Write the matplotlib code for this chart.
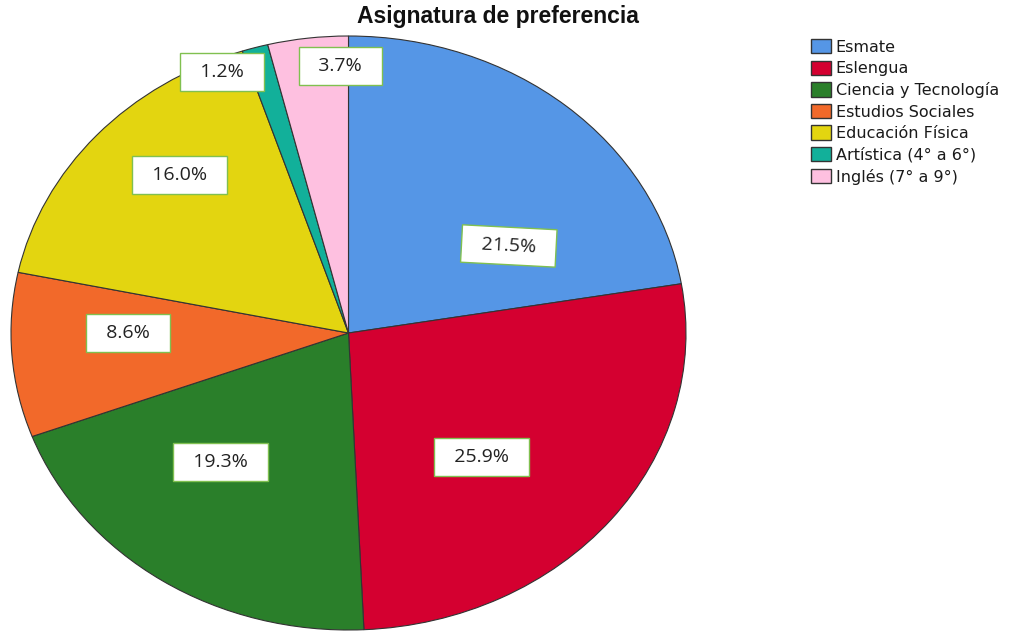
import matplotlib
matplotlib.use('Agg')
from matplotlib import pyplot as plt
from matplotlib.patches import Patch
from matplotlib import font_manager as fm

# preferred subject, share of students (%)
subjects = ['Esmate', 'Eslengua', 'Ciencia y Tecnología', 'Estudios Sociales',
            'Educación Física', 'Artística (4° a 6°)', 'Inglés (7° a 9°)']
percent = [21.5, 25.9, 19.3, 8.6, 16.0, 1.2, 3.7]

colors = ['#5596E6', '#D40030', '#2A7F2A', '#F2692A', '#E3D510', '#12B09A', '#FEC0E0']
# where each value box sits, in units of the pie radius
label_xy = [(0.475, 0.293), (0.395, -0.418), (-0.380, -0.434), (-0.654, 0.0),
            (-0.501, 0.532), (-0.374, 0.879), (-0.024, 0.899)]
label_rot = [-3, 0, 0, 0, 0, 0, 0]

# plain (not narrow) Liberation Sans Bold for the title
title_font = fm.FontProperties(family='DejaVu Sans', weight='bold', size=14)
for f in fm.fontManager.ttflist:
    if f.name == 'Liberation Sans' and f.weight in (700, 'bold') and f.style == 'normal' \
            and 'Narrow' not in f.fname:
        title_font = fm.FontProperties(fname=f.fname, size=16.5)
        break

fig = plt.figure(figsize=(10.14, 6.31), dpi=100)
ax = fig.add_axes([11/1014, 1/631, 675/1014, 594/631])

wedges, _ = ax.pie(percent, colors=colors, startangle=90, counterclock=False,
                   wedgeprops=dict(edgecolor='#333333', linewidth=0.8))
for w in wedges:
    w.set_clip_on(False)
ax.set_aspect('auto')
ax.set_xlim(-1, 1)
ax.set_ylim(-1, 1)
ax.axis('off')

for p, (x, y), rot in zip(percent, label_xy, label_rot):
    ax.text(x, y, '  %.1f%%  ' % p, ha='center', va='center', rotation=rot,
            fontsize=14, family='Open Sans', color='#222222',
            bbox=dict(boxstyle='square,pad=0.5', facecolor='white',
                      edgecolor='#80C050', linewidth=1))

fig.text(0.491, 1 - 17/631, 'Asignatura de preferencia', ha='center', va='center',
         fontproperties=title_font, color='#111111')

handles = [Patch(facecolor=c, edgecolor='#333333', linewidth=1) for c in colors]
fig.legend(handles, subjects, loc='upper left', bbox_to_anchor=(811/1014, 1 - 39/631),
           frameon=False, prop=dict(family='DejaVu Sans', size=11.5),
           labelcolor='#1a1a1a',
           handlelength=1.25, handleheight=1.0, handletextpad=0.3,
           labelspacing=0.37, borderpad=0, borderaxespad=0)

fig.savefig('out.png', dpi=100)
